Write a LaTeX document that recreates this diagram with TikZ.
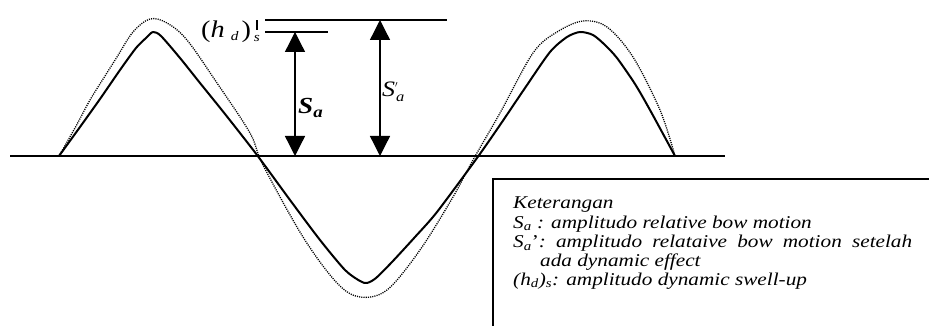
\documentclass[tikz,border=0pt]{standalone}
\usepackage{fontspec}
\setmainfont{Liberation Serif}[FakeStretch=1.18]
\usetikzlibrary{arrows.meta}
\begin{document}
\begin{tikzpicture}[x=1pt,y=-1pt,
  wave/.style={line width=2pt, line join=round, line cap=round},
  swell/.style={line width=1.3pt, dash pattern=on 1.1pt off 1.1pt},
  baseline/.style={line width=1.3pt},
  dimline/.style={line width=1.3pt, {Triangle[width=20pt,length=20pt]}-{Triangle[width=20pt,length=20pt]}},
  lbl/.style={inner sep=0pt, anchor=base west},
  legend/.style={anchor=base west, inner sep=0pt, font=\fontsize{18}{19}\selectfont\itshape}]
\useasboundingbox (0,0) rectangle (929,326);
\fill[white] (0,0) rectangle (929,326);
% baseline
\coordinate (b0) at (10,156); \coordinate (b1) at (725,156);
\draw[baseline] (b0) -- (b1);
% dotted (with dynamic effect)
\draw[swell] plot[smooth, tension=0.55] coordinates {
 (59,156) (75,128) (90,100) (105,76) (117,57) (133,32) (150,19) (167,23) (187,40) (217,83) (250,133)
 (263,165) (303,237) (337,283) (360,297) (387,290) (420,250) (453,197) (473,160)
 (500,113) (533,53) (557,32) (583,21) (607,27) (633,57) (660,110) (675,156)};
% solid wave
\draw[wave] plot[smooth, tension=0.45] coordinates {
 (59,156) (80,127) (100,99) (120,70) (136,48) (146,38) (153,32) (161,36) (180,58) (200,83) (225,114) (257,155)
 (290,200) (320,240) (345,270) (360,281) (367,283) (376,278) (392,262) (415,237) (437,212) (477,158)
 (500,125) (525,88) (550,52) (567,37) (580,32) (593,35) (605,45) (617,58) (635,84) (650,110) (675,156)};
% reference levels
\coordinate (s0) at (265,32); \coordinate (s1) at (328,32);
\coordinate (t0) at (265,20); \coordinate (t1) at (447,20);
\draw[baseline] (s0) -- (s1);
\draw[baseline] (t0) -- (t1);
% dimension arrows
\coordinate (a0) at (295,32); \coordinate (a1) at (295,156);
\coordinate (c0) at (380,20); \coordinate (c1) at (380,156);
\draw[dimline] (a0) -- (a1);
\draw[dimline] (c0) -- (c1);
% labels
\node[lbl] (hd) at (201,38) {\fontsize{24}{24}\selectfont (\textit{h}\hspace{6pt}\raisebox{-0.2ex}{\fontsize{13}{13}\selectfont\textit{d}}\hspace{3pt})\hspace{3pt}\rlap{\hspace{2.5pt}\rule[8pt]{1.3pt}{10pt}}\raisebox{-4pt}{\fontsize{13}{13}\selectfont\textit{s}}};
\node[lbl] (sa) at (298,114) {\fontsize{23}{23}\selectfont\bfseries\itshape S\raisebox{-0.3ex}{\fontsize{16}{16}\selectfont a}};
\node[lbl] (sap) at (382,97) {\fontsize{22}{22}\selectfont\itshape S\raisebox{0.5ex}{\fontsize{13}{13}\selectfont$'$}\hspace{-2pt}\raisebox{-0.45ex}{\fontsize{14}{14}\selectfont a}};
% legend box
\coordinate (k0) at (493,330); \coordinate (k1) at (493,179); \coordinate (k2) at (932,179);
\draw[line width=1.3pt] (k0) -- (k1) -- (k2);
\node[legend] (l1) at (513,208) {Keterangan};
\node[legend] (l2) at (513,228) {S\textsubscript{a} : amplitudo relative bow motion};
\node[legend] (l3) at (513,247.5) {\hbox to 399pt{S\textsubscript{a}\textup{'}:\hfill amplitudo\hfill relataive\hfill bow\hfill motion\hfill setelah}};
\node[legend] (l4) at (540,266) {ada dynamic effect};
\node[legend] (l5) at (513,285) {(h\textsubscript{d})\textsubscript{s}: amplitudo dynamic swell-up};
\end{tikzpicture}
\end{document}
